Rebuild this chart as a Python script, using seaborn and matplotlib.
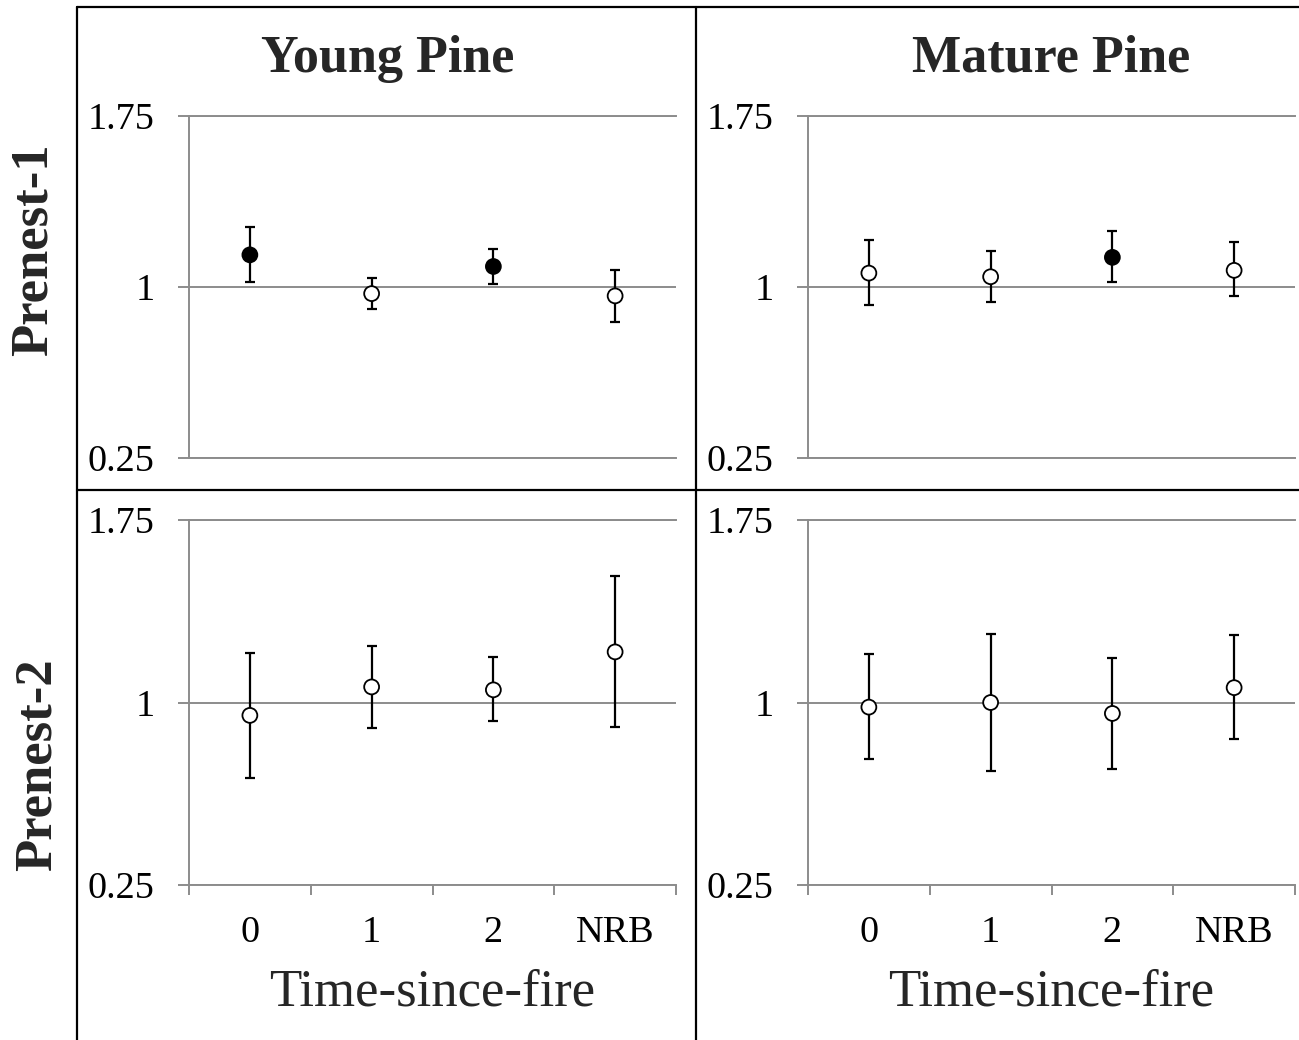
import matplotlib
matplotlib.use("Agg")
import matplotlib.pyplot as plt
from matplotlib.lines import Line2D
import numpy as np
import pandas as pd
import seaborn as sns

# values
tsf = ["0", "1", "2", "NRB"]
stands = ["Young Pine", "Mature Pine"]
stages = ["Prenest-1", "Prenest-2"]

young_p1 = [1.141, 0.971, 1.090, 0.961]
young_p1_lo = [1.023, 0.904, 1.013, 0.848]
young_p1_hi = [1.262, 1.041, 1.168, 1.076]
young_p1_sig = [True, False, True, False]

mature_p1 = [1.061, 1.045, 1.130, 1.073]
mature_p1_lo = [0.923, 0.936, 1.020, 0.959]
mature_p1_hi = [1.208, 1.160, 1.245, 1.197]
mature_p1_sig = [False, False, True, False]

young_p2 = [0.947, 1.064, 1.052, 1.208]
young_p2_lo = [0.688, 0.896, 0.923, 0.899]
young_p2_hi = [1.205, 1.234, 1.186, 1.518]
young_p2_sig = [False, False, False, False]

mature_p2 = [0.981, 1.000, 0.955, 1.061]
mature_p2_lo = [0.766, 0.718, 0.725, 0.850]
mature_p2_hi = [1.199, 1.282, 1.183, 1.276]
mature_p2_sig = [False, False, False, False]

yticks = [0.25, 1, 1.75]
ytick_labels = ["0.25", "1", "1.75"]

panels = {
    ("Prenest-1", "Young Pine"): (young_p1, young_p1_lo, young_p1_hi, young_p1_sig),
    ("Prenest-1", "Mature Pine"): (mature_p1, mature_p1_lo, mature_p1_hi, mature_p1_sig),
    ("Prenest-2", "Young Pine"): (young_p2, young_p2_lo, young_p2_hi, young_p2_sig),
    ("Prenest-2", "Mature Pine"): (mature_p2, mature_p2_lo, mature_p2_hi, mature_p2_sig),
}

rows = []
for (stage, stand), (val, lo, hi, sig) in panels.items():
    for t, v, l, h, s in zip(tsf, val, lo, hi, sig):
        rows.append(dict(stage=stage, stand=stand, tsf=t, ratio=v, lo=l, hi=h, sig=s))
df = pd.DataFrame(rows)

sns.set_theme(style="white")
plt.rcParams["font.family"] = ["Liberation Serif", "DejaVu Serif"]

W, H = 1299, 1040
fig = plt.figure(figsize=(W / 100, H / 100), dpi=100)

gray = "#8c8c8c"
# axes rectangles in pixels: (left, top, right, bottom)
boxes = {
    (0, 0): (189, 116, 676, 458),
    (0, 1): (808, 116, 1295, 458),
    (1, 0): (189, 520, 676, 885),
    (1, 1): (808, 520, 1295, 885),
}

for (r, c), (x0, y0, x1, y1) in boxes.items():
    ax = fig.add_axes([x0 / W, 1 - y1 / H, (x1 - x0) / W, (y1 - y0) / H])
    sub = df[(df.stage == stages[r]) & (df.stand == stands[c])]

    ax.errorbar(sub.tsf, sub.ratio,
                yerr=[sub.ratio - sub.lo, sub.hi - sub.ratio],
                fmt="none", ecolor="black", elinewidth=1.6,
                capsize=3.6, capthick=1.6, zorder=3)
    sns.scatterplot(data=sub, x="tsf", y="ratio", hue="sig",
                    palette={True: "black", False: "white"},
                    edgecolor="black", linewidth=1.3, s=115,
                    legend=False, ax=ax, zorder=4)

    ax.set_xlim(-0.5, 3.5)
    ax.set_ylim(0.25, 1.75)
    ax.set_yticks(yticks)
    ax.set_yticklabels(ytick_labels)
    ax.yaxis.grid(True, color=gray, linewidth=1.4)
    ax.xaxis.grid(False)
    ax.set_xlabel("")
    ax.set_ylabel("")
    for side in ["top", "bottom", "left"]:
        ax.spines[side].set_visible(True)
        ax.spines[side].set_color(gray)
        ax.spines[side].set_linewidth(1.4)
    ax.spines["right"].set_visible(False)
    ax.tick_params(axis="y", which="major", left=True, length=8, width=1.4,
                   color=gray, pad=17, labelsize=27.5, labelcolor="black")

    if r == 1:
        ax.set_xticks(range(len(tsf)))
        ax.set_xticklabels(tsf)
        ax.set_xticks(np.arange(-0.5, len(tsf), 1.0), minor=True)
        ax.tick_params(axis="x", which="major", bottom=True, length=0,
                       pad=22, labelsize=27.5, labelcolor="black")
        ax.tick_params(axis="x", which="minor", bottom=True, length=7,
                       width=1.4, color=gray)
        fig.text(((x0 + x1) / 2) / W, 1 - 1006 / H, "Time-since-fire",
                 ha="center", va="baseline", fontsize=38)
    else:
        ax.set_xticks([])

# column titles
fig.text(388 / W, 1 - 72 / H, stands[0], ha="center", va="baseline",
         fontsize=37.5, fontweight="bold")
fig.text(1051 / W, 1 - 72 / H, stands[1], ha="center", va="baseline",
         fontsize=37.5, fontweight="bold")

# row labels
fig.text(34 / W, 1 - 250 / H, stages[0], ha="center", va="center",
         rotation=90, fontsize=38, fontweight="bold")
fig.text(38 / W, 1 - 765 / H, stages[1], ha="center", va="center",
         rotation=90, fontsize=38, fontweight="bold")

# panel frame lines
def px_line(xa, ya, xb, yb):
    fig.add_artist(Line2D([xa / W, xb / W], [1 - ya / H, 1 - yb / H],
                          color="black", linewidth=1.6, transform=fig.transFigure))

px_line(77, 7, W, 7)
px_line(77, 7, 77, H)
px_line(696, 7, 696, H)
px_line(77, 490, W, 490)

fig.savefig("out.png", dpi=100)
